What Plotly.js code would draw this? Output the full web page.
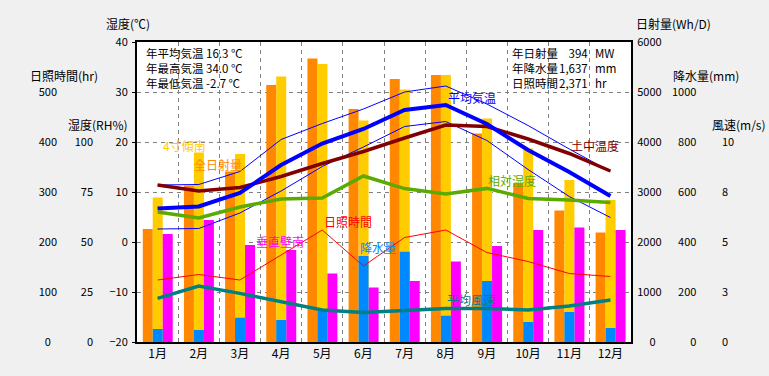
<!DOCTYPE html>
<html><head><meta charset="utf-8">
<script src="https://cdn.plot.ly/plotly-3.0.1.min.js"></script>
<style>html,body{margin:0;padding:0;background:#f0f0f0;}</style>
</head><body><div id="chart" style="width:769px;height:376px;"></div>
<script>
// ---- data ----
const months = ['1月','2月','3月','4月','5月','6月','7月','8月','9月','10月','11月','12月'];
const solarAll  = [2260, 3130, 3410, 5140, 5670, 4660, 5260, 5340, 4170, 3180, 2630, 2190]; // 全日射量 Wh/D
const solarTilt = [2890, 3790, 3760, 5310, 5560, 4430, 5050, 5340, 4470, 3870, 3240, 2840]; // 4寸傾南
const solarVert = [2160, 2440, 1940, 1840, 1370, 1090, 1220, 1610, 1920, 2240, 2290, 2240]; // 垂直壁南
const precip    = [52, 48, 97, 88, 124, 344, 361, 105, 244, 80, 120, 56];                  // 降水量 mm
const tempMax   = [11.4, 11.5, 14.1, 20.5, 23.7, 26.6, 30.0, 31.2, 27.6, 23.3, 18.6, 14.1];
const tempAvg   = [6.7, 7.1, 9.8, 15.4, 19.7, 22.6, 26.4, 27.4, 23.6, 18.4, 14.0, 9.2];
const tempMin   = [2.6, 2.7, 5.8, 10.2, 15.1, 19.0, 23.1, 24.1, 20.3, 14.5, 9.1, 4.9];
const soilTemp  = [11.4, 10.2, 10.9, 13.1, 15.7, 18.1, 20.8, 23.4, 23.1, 20.6, 17.7, 14.2];
const humidity  = [65, 62, 67.5, 71.5, 72, 83, 76.7, 74, 76.8, 71.8, 71, 69.8];
const sunHours  = [124, 135, 124, 174, 224, 152, 209, 224, 179, 161, 137, 131];
const windSpeed = [2.18, 2.8, 2.43, 2.02, 1.6, 1.48, 1.6, 1.68, 1.68, 1.6, 1.8, 2.1];

const tempTicks   = [-20, -10, 0, 10, 20, 30, 40];
const sunTicks    = [0, 100, 200, 300, 400, 500];
const humTicks    = [0, 25, 50, 75, 100];
const solarTicks  = [0, 1000, 2000, 3000, 4000, 5000, 6000];
const precipTicks = [0, 200, 400, 600, 800, 1000];
const windTickVals = [0, 2.5, 5, 7.5, 10];
const windTickText = ['0', '3', '5', '8', '10'];

const statsLeft  = ['年平均気温 16.3 ℃', '年最高気温 34.0 ℃', '年最低気温 -2.7 ℃'];
const statsRightLabel = ['年日射量', '年降水量', '日照時間'];
const statsRightValue = ['394', '1,637', '2,371'];
const statsRightUnit  = ['MW', 'mm', 'hr'];

// ---- layout helpers ----
const W = 769, H = 376;
const px = x => x / W;
const py = y => 1 - y / H;
const xdom = [px(137), px(631)];
const ydom = [py(342), py(42)];
const idx = months.map((m, i) => i + 1);
const FONT = 'Noto Sans CJK JP, sans-serif';
const FS = '\u2007';
const padL = (s, n) => FS.repeat(Math.max(0, n - s.length)) + s;

const barW = 0.243;
const traces = [
  {type:'bar', x: idx, y: solarAll, yaxis:'y', offset:-0.36, width: barW, marker:{color:'#FF8800', line:{width:0}}},
  {type:'bar', x: idx, y: solarTilt, yaxis:'y', offset:-0.118, width: barW, marker:{color:'#FFCC00', line:{width:0}}},
  {type:'bar', x: idx, y: solarVert, yaxis:'y', offset:0.125, width: barW, marker:{color:'#FF00FF', line:{width:0}}},
  {type:'bar', x: idx, y: precip, yaxis:'y2', offset:-0.118, width: barW, marker:{color:'#0088FF', line:{width:0}}},
  {type:'scatter', mode:'lines', x: idx, y: tempMax, yaxis:'y3', line:{color:'#0000FF', width:1}},
  {type:'scatter', mode:'lines', x: idx, y: tempMin, yaxis:'y3', line:{color:'#0000FF', width:1}},
  {type:'scatter', mode:'lines', x: idx, y: soilTemp, yaxis:'y3', line:{color:'#800000', width:3.5}},
  {type:'scatter', mode:'lines', x: idx, y: tempAvg, yaxis:'y3', line:{color:'#0000FF', width:4}},
  {type:'scatter', mode:'lines', x: idx, y: sunHours, yaxis:'y4', line:{color:'#FF0000', width:1}},
  {type:'scatter', mode:'lines', x: idx, y: humidity, yaxis:'y5', line:{color:'#5AAA00', width:3.5}},
  {type:'scatter', mode:'lines', x: idx, y: windSpeed, yaxis:'y6', line:{color:'#008080', width:3.5}}
];

const tickFont = {family: FONT, size: 11, color:'#000'};
const baseY = {domain: ydom, showgrid:false, zeroline:false, tickfont: tickFont, fixedrange:true};

const annotations = [];
function ann(text, x, y, color, xanchor, size, align) {
  annotations.push({text, x: px(x), y: py(y), xref:'paper', yref:'paper', showarrow:false,
    xanchor: xanchor || 'left', yanchor:'middle', align: align || 'left', borderpad:0,
    font:{family: FONT, size: size || 12, color: color || '#000'}});
}
// axis titles
ann('湿度(℃)', 105, 24);
ann('日照時間(hr)', 29, 75);
ann('湿度(RH%)', 67, 125);
ann('日射量(Wh/D)', 635, 24);
ann('降水量(mm)', 672, 75);
ann('風速(m/s)', 711, 125);
// stats blocks (one text per column)
ann(statsLeft.join('<br>'), 145, 68, '#000', 'left', 11.5);
ann(statsRightLabel.join('<br>'), 511, 68, '#000', 'left', 11.5);
ann(statsRightValue.join('<br>'), 589, 68, '#000', 'right', 11.5, 'right');
ann(statsRightUnit.join('<br>'), 594, 68, '#000', 'left', 11.5);
// series labels
ann('4寸傾南', 162, 145, '#FFCC00');
ann('全日射量', 193, 164, '#FF8800');
ann('平均気温', 447, 97, '#0000FF');
ann('土中温度', 570, 145, '#800000');
ann('相対湿度', 487, 180, '#5AAA00');
ann('日照時間', 323, 221, '#FF0000');
ann('垂直壁南', 255, 242, '#FF00FF');
ann('降水量', 359, 248, '#0088FF');
ann('平均風速', 446, 299, '#008080');

const layout = {
  width: W, height: H,
  margin: {l:0, r:0, t:0, b:0},
  paper_bgcolor:'#F0F0F0', plot_bgcolor:'#FFFFFF',
  showlegend:false, barmode:'overlay', hovermode:false,
  font:{family: FONT, size:12, color:'#000'},
  xaxis: {domain: xdom, range:[0.5, 12.5], tickmode:'array', tickvals: idx, ticktext: months,
    showgrid:false, zeroline:false, showline:true, mirror:true, linecolor:'#000', linewidth:2,
    ticks:'', tickfont:{family: FONT, size:12, color:'#000'}, fixedrange:true,
    minor:{tickmode:'linear', tick0:0.5, dtick:1, showgrid:true, gridcolor:'#808080', griddash:'4px,4px', gridwidth:1, ticks:''}},
  yaxis: Object.assign({}, baseY, {range:[0, 6000], side:'right', anchor:'x', tickmode:'array',
    tickvals: solarTicks, ticktext: solarTicks.map(v => padL(String(v), v === 0 ? 3 : 4)),
    showline:true, linecolor:'#000', linewidth:2, ticks:'', ticklabelstandoff:2}),
  yaxis2: Object.assign({}, baseY, {range:[0, 1200], side:'right', overlaying:'y', anchor:'free', position: px(671),
    tickmode:'array', tickvals: precipTicks, ticktext: precipTicks.map(v => padL(String(v), 4)), showline:false, ticks:''}),
  yaxis3: Object.assign({}, baseY, {range:[-20, 40], side:'left', overlaying:'y', anchor:'x', tickmode:'array',
    tickvals: tempTicks, showgrid:true, gridcolor:'#808080', griddash:'4px,4px', gridwidth:1,
    showline:true, linecolor:'#000', linewidth:2, ticks:'outside', ticklen:3, tickcolor:'#000', ticklabelstandoff:2}),
  yaxis4: Object.assign({}, baseY, {range:[0, 600], side:'left', overlaying:'y', anchor:'free', position: px(57),
    tickmode:'array', tickvals: sunTicks, ticktext: sunTicks.map(v => v === 0 ? '0' + FS : String(v)), ticks:''}),
  yaxis5: Object.assign({}, baseY, {range:[0, 150], side:'left', overlaying:'y', anchor:'free', position: px(93),
    tickmode:'array', tickvals: humTicks, ticktext: humTicks.map(v => String(v)), ticks:''}),
  yaxis6: Object.assign({}, baseY, {range:[0, 15], side:'right', overlaying:'y', anchor:'free', position: px(721),
    tickmode:'array', tickvals: windTickVals, ticktext: windTickText, ticks:''}),
  annotations
};

Plotly.newPlot('chart', traces, layout, {staticPlot:true, displayModeBar:false});
</script></body></html>
